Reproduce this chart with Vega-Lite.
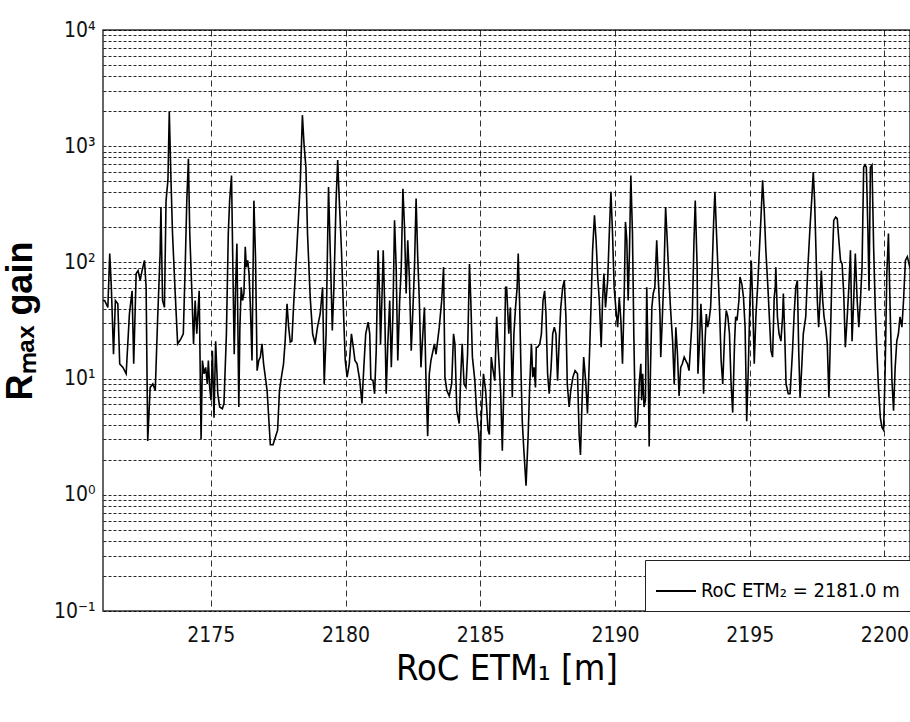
{
"$schema": "https://vega.github.io/schema/vega-lite/v6.json",
"width": 807,
"height": 581,
"autosize": {"type": "none"},
"padding": {"left": 103, "top": 30, "right": 0, "bottom": 111},
"background": "white",
"config": {"view": {"stroke": "#333", "strokeWidth": 1.5}, "font": "Liberation Sans Narrow, DejaVu Sans Condensed, sans-serif"},
"data": {"values": [
{"x":2171.00,"y":47},{"x":2171.06,"y":47},{"x":2171.18,"y":41},{"x":2171.25,"y":119},{"x":2171.31,"y":61},{"x":2171.39,"y":16.2},{"x":2171.46,"y":47},{"x":2171.55,"y":44},{"x":2171.62,"y":13.4},{"x":2171.74,"y":12.5},{"x":2171.86,"y":11},{"x":2171.98,"y":36},{"x":2172.08,"y":57},{"x":2172.14,"y":13.4},{"x":2172.23,"y":80},{"x":2172.30,"y":85},{"x":2172.38,"y":70},{"x":2172.45,"y":85},{"x":2172.54,"y":104},{"x":2172.60,"y":61},{"x":2172.66,"y":2.9},{"x":2172.75,"y":8.4},{"x":2172.85,"y":9},{"x":2172.94,"y":7.9},{"x":2173.03,"y":34},{"x":2173.12,"y":119},{"x":2173.15,"y":300},{"x":2173.21,"y":47},{"x":2173.28,"y":41},{"x":2173.34,"y":340},{"x":2173.41,"y":510},{"x":2173.46,"y":1980},{"x":2173.52,"y":545},{"x":2173.58,"y":177},{"x":2173.68,"y":54},{"x":2173.77,"y":19.9},{"x":2173.89,"y":22},{"x":2173.98,"y":24.3},{"x":2174.05,"y":91},{"x":2174.11,"y":340},{"x":2174.17,"y":780},{"x":2174.22,"y":177},{"x":2174.30,"y":54},{"x":2174.36,"y":19.9},{"x":2174.42,"y":47},{"x":2174.48,"y":24.3},{"x":2174.57,"y":57},{"x":2174.64,"y":3.0},{"x":2174.69,"y":14.3},{"x":2174.75,"y":11},{"x":2174.81,"y":12.5},{"x":2174.87,"y":9},{"x":2174.91,"y":14.3},{"x":2174.96,"y":8.4},{"x":2175.01,"y":6.5},{"x":2175.06,"y":17.4},{"x":2175.12,"y":4.6},{"x":2175.18,"y":21},{"x":2175.26,"y":7.4},{"x":2175.33,"y":5.7},{"x":2175.43,"y":5.5},{"x":2175.49,"y":6.1},{"x":2175.58,"y":24.3},{"x":2175.65,"y":177},{"x":2175.70,"y":340},{"x":2175.77,"y":560},{"x":2175.82,"y":91},{"x":2175.87,"y":16.2},{"x":2175.92,"y":61},{"x":2175.97,"y":145},
{"x":2176.04,"y":5.7},{"x":2176.08,"y":27.7},{"x":2176.13,"y":61},{"x":2176.18,"y":47},{"x":2176.23,"y":54},{"x":2176.28,"y":136},{"x":2176.32,"y":91},{"x":2176.37,"y":104},{"x":2176.42,"y":80},{"x":2176.47,"y":41},{"x":2176.53,"y":14.3},{"x":2176.60,"y":340},{"x":2176.66,"y":111},{"x":2176.72,"y":11.7},{"x":2176.78,"y":14.3},{"x":2176.84,"y":15.3},{"x":2176.90,"y":19.9},{"x":2176.96,"y":13.4},{"x":2177.09,"y":7.9},{"x":2177.21,"y":2.7},{"x":2177.31,"y":2.7},{"x":2177.39,"y":3.1},{"x":2177.48,"y":3.6},{"x":2177.55,"y":7.9},{"x":2177.64,"y":11},{"x":2177.70,"y":13.4},{"x":2177.76,"y":21},{"x":2177.83,"y":44},{"x":2177.89,"y":27.7},{"x":2177.95,"y":20.6},{"x":2178.01,"y":21},{"x":2178.07,"y":41},{"x":2178.19,"y":127},{"x":2178.32,"y":475},{"x":2178.40,"y":1850},{"x":2178.46,"y":1050},{"x":2178.53,"y":660},{"x":2178.59,"y":177},{"x":2178.69,"y":50},{"x":2178.78,"y":24.3},{"x":2178.87,"y":19.9},{"x":2178.96,"y":27.7},{"x":2179.06,"y":36},{"x":2179.15,"y":61},{"x":2179.21,"y":9},{"x":2179.28,"y":24.3},{"x":2179.33,"y":127},{"x":2179.37,"y":445},{"x":2179.45,"y":91},{"x":2179.51,"y":26},{"x":2179.57,"y":61},{"x":2179.65,"y":340},{"x":2179.71,"y":760},{"x":2179.77,"y":340},{"x":2179.85,"y":127},{"x":2179.92,"y":41},{"x":2179.99,"y":14.3},{"x":2180.06,"y":10.3},{"x":2180.14,"y":13.4},{"x":2180.22,"y":24.3},{"x":2180.29,"y":18.6},{"x":2180.35,"y":14.3},{"x":2180.43,"y":13.4},{"x":2180.53,"y":9.6},{"x":2180.61,"y":6.1},{"x":2180.68,"y":12.5},{"x":2180.75,"y":24.3},{"x":2180.84,"y":30.6},{"x":2180.90,"y":24.3},{"x":2180.94,"y":9.9},
{"x":2181.02,"y":9.6},{"x":2181.08,"y":7.4},{"x":2181.14,"y":17.4},{"x":2181.21,"y":127},{"x":2181.27,"y":47},{"x":2181.30,"y":19.9},{"x":2181.35,"y":47},{"x":2181.40,"y":127},{"x":2181.45,"y":47},{"x":2181.51,"y":7.4},{"x":2181.57,"y":19.9},{"x":2181.64,"y":47},{"x":2181.70,"y":12.5},{"x":2181.76,"y":36},{"x":2181.82,"y":230},{"x":2181.88,"y":91},{"x":2181.94,"y":14.3},{"x":2182.01,"y":47},{"x":2182.07,"y":91},{"x":2182.13,"y":430},{"x":2182.19,"y":202},{"x":2182.25,"y":54},{"x":2182.31,"y":155},{"x":2182.37,"y":75},{"x":2182.44,"y":17.4},{"x":2182.50,"y":38.5},{"x":2182.56,"y":91},{"x":2182.62,"y":355},{"x":2182.68,"y":111},{"x":2182.74,"y":47},{"x":2182.80,"y":12.5},{"x":2182.87,"y":24.3},{"x":2182.93,"y":41},{"x":2182.99,"y":9},{"x":2183.05,"y":3.2},{"x":2183.11,"y":11},{"x":2183.17,"y":14.3},{"x":2183.30,"y":19.9},{"x":2183.36,"y":16.2},{"x":2183.48,"y":27.7},{"x":2183.57,"y":47},{"x":2183.64,"y":91},{"x":2183.69,"y":10.3},{"x":2183.76,"y":7.9},{"x":2183.85,"y":7.1},{"x":2183.94,"y":9},{"x":2184.01,"y":24.3},{"x":2184.06,"y":19.9},{"x":2184.13,"y":5.3},{"x":2184.22,"y":4.1},{"x":2184.28,"y":11},{"x":2184.33,"y":19.9},{"x":2184.40,"y":9},{"x":2184.47,"y":8.4},{"x":2184.53,"y":16.2},{"x":2184.60,"y":97},{"x":2184.65,"y":47},{"x":2184.71,"y":15.3},{"x":2184.80,"y":9.6},{"x":2184.87,"y":5.0},{"x":2184.95,"y":3.3},{"x":2185.00,"y":1.6},{"x":2185.04,"y":4.6},{"x":2185.12,"y":11},{"x":2185.20,"y":7.9},{"x":2185.29,"y":3.6},{"x":2185.34,"y":3.3},{"x":2185.41,"y":15.3},{"x":2185.46,"y":12.5},{"x":2185.54,"y":9.6},{"x":2185.61,"y":34},{"x":2185.68,"y":16.2},{"x":2185.76,"y":7.4},{"x":2185.82,"y":2.4},{"x":2185.88,"y":9},{"x":2185.94,"y":61},{"x":2185.98,"y":61},
{"x":2186.06,"y":24.3},{"x":2186.12,"y":41},{"x":2186.19,"y":6.9},{"x":2186.25,"y":24.3},{"x":2186.31,"y":41},{"x":2186.37,"y":61},{"x":2186.41,"y":119},{"x":2186.46,"y":47},{"x":2186.51,"y":12.5},{"x":2186.56,"y":4.3},{"x":2186.62,"y":2.4},{"x":2186.70,"y":1.2},{"x":2186.78,"y":3.3},{"x":2186.83,"y":7.9},{"x":2186.90,"y":19.9},{"x":2186.95,"y":10.3},{"x":2187.00,"y":12.5},{"x":2187.05,"y":8.4},{"x":2187.08,"y":18.6},{"x":2187.13,"y":18.6},{"x":2187.21,"y":19.9},{"x":2187.27,"y":24.3},{"x":2187.33,"y":47},{"x":2187.39,"y":57},{"x":2187.44,"y":36},{"x":2187.50,"y":11},{"x":2187.56,"y":7.4},{"x":2187.63,"y":12.5},{"x":2187.69,"y":24.3},{"x":2187.75,"y":27.7},{"x":2187.81,"y":24.3},{"x":2187.87,"y":9.6},{"x":2187.93,"y":21},{"x":2187.99,"y":41},{"x":2188.06,"y":61},{"x":2188.12,"y":70},{"x":2188.18,"y":34},{"x":2188.23,"y":9},{"x":2188.30,"y":5.7},{"x":2188.36,"y":7.9},{"x":2188.44,"y":10.3},{"x":2188.52,"y":11.7},{"x":2188.61,"y":11},{"x":2188.67,"y":3.3},{"x":2188.72,"y":2.2},{"x":2188.78,"y":6.5},{"x":2188.84,"y":15.3},{"x":2188.92,"y":9},{"x":2188.98,"y":5.0},{"x":2189.04,"y":12.5},{"x":2189.11,"y":41},{"x":2189.17,"y":127},{"x":2189.24,"y":254},{"x":2189.30,"y":155},{"x":2189.36,"y":75},{"x":2189.42,"y":47},{"x":2189.49,"y":18.6},{"x":2189.54,"y":47},{"x":2189.59,"y":80},{"x":2189.65,"y":41},{"x":2189.73,"y":70},{"x":2189.79,"y":177},{"x":2189.85,"y":405},{"x":2189.91,"y":177},{"x":2189.97,"y":61},{"x":2190.04,"y":38.5},{"x":2190.10,"y":27.7},{"x":2190.16,"y":50},{"x":2190.22,"y":31.6},{"x":2190.28,"y":13.4},{"x":2190.34,"y":47},{"x":2190.39,"y":223},{"x":2190.44,"y":155},{"x":2190.49,"y":47},{"x":2190.54,"y":127},{"x":2190.59,"y":560},{"x":2190.65,"y":177},{"x":2190.70,"y":24.3},{"x":2190.76,"y":3.8},{"x":2190.84,"y":4.3},{"x":2190.90,"y":9},{"x":2190.96,"y":13.4},
{"x":2190.99,"y":6.5},{"x":2191.03,"y":11},{"x":2191.08,"y":5.7},{"x":2191.13,"y":6.5},{"x":2191.18,"y":61},{"x":2191.23,"y":14.3},{"x":2191.27,"y":2.6},{"x":2191.32,"y":12.5},{"x":2191.37,"y":41},{"x":2191.42,"y":54},{"x":2191.48,"y":61},{"x":2191.55,"y":155},{"x":2191.61,"y":70},{"x":2191.67,"y":36},{"x":2191.70,"y":15.3},{"x":2191.75,"y":29.6},{"x":2191.82,"y":80},{"x":2191.88,"y":300},{"x":2191.94,"y":155},{"x":2192.00,"y":75},{"x":2192.06,"y":41},{"x":2192.14,"y":21},{"x":2192.20,"y":9},{"x":2192.26,"y":27.7},{"x":2192.32,"y":16.2},{"x":2192.38,"y":7.1},{"x":2192.44,"y":12.5},{"x":2192.50,"y":13.4},{"x":2192.57,"y":15.3},{"x":2192.63,"y":14.3},{"x":2192.69,"y":13.4},{"x":2192.75,"y":11.7},{"x":2192.81,"y":19.9},{"x":2192.87,"y":34},{"x":2192.93,"y":145},{"x":2192.98,"y":340},{"x":2193.05,"y":91},{"x":2193.08,"y":11},{"x":2193.14,"y":21},{"x":2193.19,"y":44},{"x":2193.24,"y":24.3},{"x":2193.29,"y":7.4},{"x":2193.34,"y":19.9},{"x":2193.39,"y":36},{"x":2193.44,"y":27.7},{"x":2193.49,"y":31.6},{"x":2193.55,"y":41},{"x":2193.61,"y":91},{"x":2193.66,"y":215},{"x":2193.71,"y":405},{"x":2193.76,"y":202},{"x":2193.82,"y":91},{"x":2193.88,"y":41},{"x":2193.94,"y":14.3},{"x":2194.00,"y":9},{"x":2194.07,"y":24.3},{"x":2194.13,"y":38.5},{"x":2194.19,"y":34},{"x":2194.25,"y":24.3},{"x":2194.31,"y":9},{"x":2194.37,"y":5.1},{"x":2194.44,"y":21},{"x":2194.48,"y":34},{"x":2194.53,"y":31.6},{"x":2194.60,"y":47},{"x":2194.64,"y":75},{"x":2194.71,"y":65},{"x":2194.77,"y":50},{"x":2194.83,"y":27.7},{"x":2194.89,"y":4.3},{"x":2194.95,"y":12.5},{"x":2195.01,"y":47},{"x":2195.06,"y":104},{"x":2195.11,"y":47},{"x":2195.17,"y":13.4},{"x":2195.23,"y":34},{"x":2195.30,"y":65},{"x":2195.36,"y":127},{"x":2195.42,"y":246},{"x":2195.48,"y":510},{"x":2195.54,"y":280},{"x":2195.60,"y":127},{"x":2195.67,"y":65},{"x":2195.73,"y":34},{"x":2195.79,"y":17.4},{"x":2195.85,"y":15.3},{"x":2195.91,"y":50},{"x":2195.95,"y":61},
{"x":2195.97,"y":91},{"x":2196.03,"y":34},{"x":2196.09,"y":24.3},{"x":2196.16,"y":21},{"x":2196.22,"y":34},{"x":2196.25,"y":54},{"x":2196.30,"y":24.3},{"x":2196.35,"y":9},{"x":2196.43,"y":7.4},{"x":2196.50,"y":7.4},{"x":2196.59,"y":17.4},{"x":2196.65,"y":36},{"x":2196.71,"y":61},{"x":2196.77,"y":70},{"x":2196.82,"y":17.4},{"x":2196.87,"y":6.9},{"x":2196.92,"y":11},{"x":2196.99,"y":24.3},{"x":2197.08,"y":34},{"x":2197.16,"y":91},{"x":2197.24,"y":202},{"x":2197.30,"y":340},{"x":2197.36,"y":600},{"x":2197.41,"y":340},{"x":2197.46,"y":127},{"x":2197.51,"y":47},{"x":2197.56,"y":27.7},{"x":2197.61,"y":47},{"x":2197.66,"y":85},{"x":2197.71,"y":47},{"x":2197.76,"y":34},{"x":2197.82,"y":27.7},{"x":2197.88,"y":19.9},{"x":2197.94,"y":6.9},{"x":2198.00,"y":24.3},{"x":2198.06,"y":91},{"x":2198.12,"y":230},{"x":2198.19,"y":246},{"x":2198.25,"y":238},{"x":2198.31,"y":155},{"x":2198.37,"y":104},{"x":2198.43,"y":97},{"x":2198.49,"y":54},{"x":2198.55,"y":18.6},{"x":2198.62,"y":34},{"x":2198.68,"y":61},{"x":2198.74,"y":127},{"x":2198.80,"y":21},{"x":2198.86,"y":47},{"x":2198.92,"y":119},{"x":2198.99,"y":47},{"x":2199.05,"y":27.7},{"x":2199.11,"y":47},{"x":2199.17,"y":91},{"x":2199.23,"y":660},{"x":2199.28,"y":690},{"x":2199.33,"y":660},{"x":2199.39,"y":177},{"x":2199.43,"y":57},{"x":2199.48,"y":660},{"x":2199.54,"y":690},{"x":2199.60,"y":136},{"x":2199.66,"y":41},{"x":2199.72,"y":17.4},{"x":2199.78,"y":8.4},{"x":2199.85,"y":4.6},{"x":2199.91,"y":3.8},{"x":2199.97,"y":3.6},{"x":2200.03,"y":12.5},{"x":2200.09,"y":80},{"x":2200.15,"y":177},{"x":2200.22,"y":34},{"x":2200.28,"y":9.6},{"x":2200.34,"y":5.3},{"x":2200.40,"y":12.5},{"x":2200.46,"y":21},{"x":2200.52,"y":24.3},{"x":2200.58,"y":34},{"x":2200.65,"y":27.7},{"x":2200.71,"y":47},{"x":2200.78,"y":104},{"x":2200.85,"y":112},{"x":2200.95,"y":90}
]},
"mark": {"type": "line", "color": "black", "strokeWidth": 1.6, "clip": true},
"encoding": {
  "x": {"field": "x", "type": "quantitative",
    "scale": {"domain": [2171, 2200.95], "nice": false, "zero": false},
    "axis": {"values": [2175, 2180, 2185, 2190, 2195, 2200], "format": "d", "title": "RoC ETM₁ [m]",
      "grid": true, "gridDash": [6, 4], "gridColor": "#000", "gridOpacity": 0.8, "gridWidth": 1,
      "domain": false, "ticks": false, "labelFontSize": 21, "labelColor": "#111", "labelPadding": 13,
      "titleFontSize": 36, "titleFontWeight": "normal", "titleColor": "#000", "titlePadding": 6}},
  "y": {"field": "y", "type": "quantitative",
    "scale": {"type": "log", "domain": [0.1, 10000], "nice": false},
    "axis": {"values": [0.1,0.2,0.3,0.4,0.5,0.6,0.7,0.8,0.9,1,2,3,4,5,6,7,8,9,10,20,30,40,50,60,70,80,90,100,200,300,400,500,600,700,800,900,1000,2000,3000,4000,5000,6000,7000,8000,9000,10000],
      "labelExpr": "datum.value == 0.1 ? '10⁻¹' : datum.value == 1 ? '10⁰' : datum.value == 10 ? '10¹' : datum.value == 100 ? '10²' : datum.value == 1000 ? '10³' : datum.value == 10000 ? '10⁴' : ''",
      "labelOverlap": false, "labelBound": false, "labelFlush": false,
      "grid": true, "gridDash": [3, 2], "gridColor": "#000", "gridOpacity": 0.85, "gridWidth": 1,
      "domain": false, "ticks": false, "labelFontSize": 21, "labelColor": "#111", "labelPadding": 8,
      "title": "Rₘₐₓ gain", "titleFont": "Liberation Sans, Arial, sans-serif", "titleFontSize": 36, "titleFontWeight": "bold", "titleColor": "#000", "titlePadding": 14}},
  "color": {"datum": "RoC ETM₂ = 2181.0 m", "type": "nominal", "scale": {"range": ["black"]},
    "legend": {"title": null, "orient": "bottom-right", "offset": 0, "padding": 10, "strokeColor": "#222", "fillColor": "white",
      "symbolType": "stroke", "symbolSize": 1600, "symbolStrokeWidth": 2, "symbolStrokeColor": "black",
      "labelFontSize": 20, "labelColor": "#000", "labelLimit": 400}}
}
}
